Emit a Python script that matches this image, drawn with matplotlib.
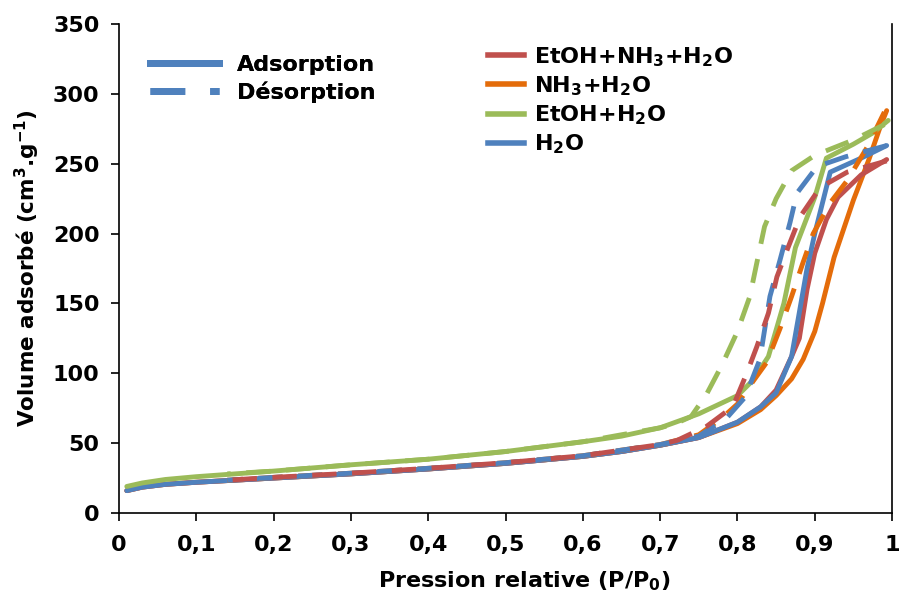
import matplotlib
matplotlib.use("Agg")
import matplotlib.pyplot as plt
from matplotlib.lines import Line2D

plt.rcParams['font.family'] = ['DejaVu Sans']
plt.rcParams['font.weight'] = 'bold'
plt.rcParams['mathtext.fontset'] = 'dejavusans'
plt.rcParams['mathtext.default'] = 'bf'

# ---------------- data ----------------
series_names = ["EtOH+NH$_3$+H$_2$O", "NH$_3$+H$_2$O", "EtOH+H$_2$O", "H$_2$O"]
colors = ["#C0504D", "#E46C0A", "#9BBB59", "#4F81BD"]

# Adsorption branches
ads_x_blue = [0.01, 0.03, 0.06, 0.1, 0.15, 0.2, 0.3, 0.4, 0.5, 0.6, 0.65, 0.7, 0.75, 0.8, 0.83, 0.85, 0.87, 0.89, 0.9, 0.92, 0.96, 0.993]
ads_y_blue = [16, 18.5, 20.5, 22, 23.5, 25, 28, 31.5, 35.5, 40.5, 44, 48.5, 54, 65, 76, 86, 112, 175, 200, 244, 254, 263]

ads_x_red = [0.01, 0.03, 0.06, 0.1, 0.15, 0.2, 0.3, 0.4, 0.5, 0.6, 0.65, 0.7, 0.75, 0.8, 0.83, 0.85, 0.87, 0.88, 0.89, 0.9, 0.915, 0.93, 0.96, 0.993]
ads_y_red = [16, 18.5, 20.5, 22, 23.5, 25, 28, 31.5, 35.5, 40.5, 44, 48.5, 54, 65, 76, 88, 112, 125, 160, 186, 210, 226, 242, 253]

ads_x_orange = [0.01, 0.03, 0.06, 0.1, 0.15, 0.2, 0.3, 0.4, 0.5, 0.6, 0.65, 0.7, 0.75, 0.8, 0.83, 0.85, 0.87, 0.885, 0.9, 0.91, 0.925, 0.95, 0.97, 0.985, 0.993]
ads_y_orange = [16, 18.5, 20.5, 22, 23.5, 25, 28, 31.5, 35.5, 40.5, 44, 48.5, 54, 64, 74, 84, 96, 110, 130, 150, 183, 224, 253, 277, 288]

ads_x_green = [0.01, 0.03, 0.06, 0.1, 0.15, 0.2, 0.3, 0.4, 0.5, 0.6, 0.65, 0.7, 0.75, 0.8, 0.82, 0.84, 0.86, 0.875, 0.9, 0.915, 0.95, 0.975, 0.995]
ads_y_green = [19, 21.5, 24, 26, 28, 30, 34.5, 38.5, 44, 51, 55, 61, 71, 84, 95, 112, 150, 190, 226, 254, 264, 272, 281]

# Desorption branches
des_x_blue = [0.993, 0.94, 0.903, 0.877, 0.868, 0.855, 0.842, 0.829, 0.81, 0.786, 0.75, 0.7, 0.6, 0.5, 0.4, 0.3, 0.2, 0.14]
des_y_blue = [263, 255, 248, 229, 208, 181, 155, 110, 83, 68, 55, 49, 41, 36, 32, 28.5, 25.5, 23.5]

des_x_red = [0.993, 0.942, 0.907, 0.881, 0.864, 0.851, 0.84, 0.825, 0.812, 0.794, 0.76, 0.722, 0.7, 0.6, 0.5, 0.4, 0.3, 0.2, 0.14]
des_y_red = [252, 244, 233, 212, 188, 169, 143, 119, 100, 76, 62, 52, 49, 41, 36, 32, 28.5, 25.5, 23.5]

des_x_orange = [0.99, 0.968, 0.942, 0.92, 0.898, 0.884, 0.87, 0.855, 0.838, 0.812, 0.8, 0.78, 0.75, 0.7, 0.6, 0.5, 0.4, 0.3, 0.2, 0.14]
des_y_orange = [287, 262, 238, 222, 200, 178, 155, 132, 108, 88, 78, 68, 56, 49, 41, 36, 32, 28.5, 25.5, 23.5]

des_x_green = [0.99, 0.95, 0.9, 0.87, 0.85, 0.835, 0.825, 0.816, 0.8, 0.78, 0.76, 0.74, 0.72, 0.7, 0.6, 0.5, 0.4, 0.3, 0.2, 0.14]
des_y_green = [278, 267, 256, 245, 225, 205, 179, 155, 130, 106, 85, 69, 64, 61, 51, 44, 38.5, 34.5, 30, 28]

x_ticks = [0, 0.1, 0.2, 0.3, 0.4, 0.5, 0.6, 0.7, 0.8, 0.9, 1.0]
x_tick_labels = ["0", "0,1", "0,2", "0,3", "0,4", "0,5", "0,6", "0,7", "0,8", "0,9", "1"]
y_ticks = [0, 50, 100, 150, 200, 250, 300, 350]

# ---------------- plot ----------------
fig = plt.figure(figsize=(9.02, 6.0), dpi=100)
ax = fig.add_axes([0.132, 0.145, 0.857, 0.815])

lw = 3.5
dash = (5.0, 3.2)

ads = {
    "#E46C0A": (ads_x_orange, ads_y_orange),
    "#C0504D": (ads_x_red, ads_y_red),
    "#4F81BD": (ads_x_blue, ads_y_blue),
    "#9BBB59": (ads_x_green, ads_y_green),
}
des = {
    "#E46C0A": (des_x_orange, des_y_orange),
    "#4F81BD": (des_x_blue, des_y_blue),
    "#C0504D": (des_x_red, des_y_red),
    "#9BBB59": (des_x_green, des_y_green),
}
for c, (xs, ys) in ads.items():
    ax.plot(xs, ys, color=c, lw=lw, solid_capstyle='round', solid_joinstyle='round')
for c, (xs, ys) in des.items():
    ax.plot(xs, ys, color=c, lw=lw, linestyle=(0, dash), dash_capstyle='butt')

ax.set_xlim(0, 1)
ax.set_ylim(0, 350)
ax.set_xticks(x_ticks)
ax.set_xticklabels(x_tick_labels)
ax.set_yticks(y_ticks)
ax.tick_params(axis='both', labelsize=16, direction='out', length=6, width=1.2)
ax.tick_params(axis='x', pad=10)
ax.tick_params(axis='y', pad=8, right=False)
for s in ['left', 'bottom', 'right']:
    ax.spines[s].set_linewidth(1.2)
ax.spines['top'].set_visible(False)

ax.set_xlabel("Pression relative (P/P$_0$)", fontsize=16, fontweight='bold', labelpad=8)
ax.xaxis.set_label_coords(0.524, -0.115)
ax.set_ylabel("Volume adsorbé (cm$^3$.g$^{-1}$)", fontsize=15.5, fontweight='bold', labelpad=8)

# legends
h1 = [Line2D([], [], color="#4F81BD", lw=5),
      Line2D([], [], color="#4F81BD", lw=5, linestyle=(0, (5, 3.6)))]
leg1 = fig.legend(h1, ["Adsorption", "Désorption"], loc='upper left',
                  bbox_to_anchor=(150 / 902, 1 - 55 / 600), frameon=False,
                  prop={'size': 16, 'weight': 'bold'}, handlelength=3.1,
                  handletextpad=0.8, labelspacing=0.3, borderpad=0, borderaxespad=0)
fig.add_artist(leg1)

h2 = [Line2D([], [], color=c, lw=4) for c in colors]
leg2 = fig.legend(h2, series_names, loc='upper left',
                  bbox_to_anchor=(488 / 902, 1 - 45 / 600), frameon=False,
                  prop={'size': 16, 'weight': 'bold'}, handlelength=1.6,
                  handletextpad=0.45, labelspacing=0.25, borderpad=0, borderaxespad=0)

fig.savefig("out.png", dpi=100)
